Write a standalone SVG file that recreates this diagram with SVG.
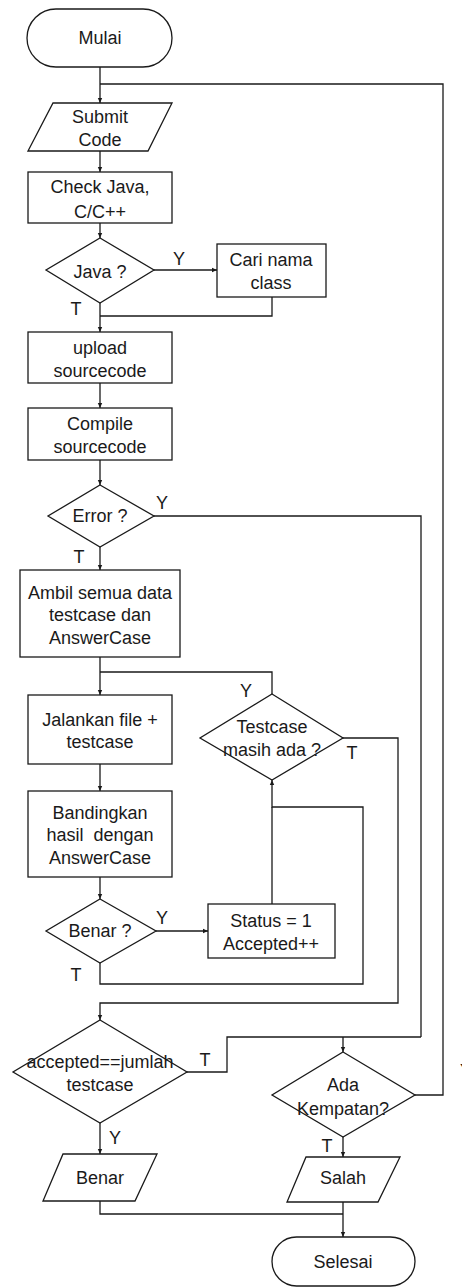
<svg xmlns="http://www.w3.org/2000/svg" width="462" height="1288" viewBox="0 0 462 1288">
  <style>
    .shape { fill: #fff; stroke: #1a1a1a; stroke-width: 1.3; }
    .wire { fill: none; stroke: #1a1a1a; stroke-width: 1.3; }
    .lbl { font-family: "Liberation Sans", Arial, sans-serif; font-size: 18px; fill: #1a1a1a; text-anchor: middle; }
  </style>
  <defs>
    <marker id="arr" markerUnits="userSpaceOnUse" markerWidth="6" markerHeight="6" refX="5" refY="3" orient="auto">
      <path d="M0,0.8 L5,3 L0,5.2 z" fill="#1a1a1a"/>
    </marker>
  </defs>
  <rect width="462" height="1288" fill="#fff"/>

  <!-- connectors -->
  <g id="connectors" class="wire">
    <path d="M100,67 V103" marker-end="url(#arr)"/>
    <path d="M415,1095 H443 V84 H100"/>
    <path d="M100,151 V172" marker-end="url(#arr)"/>
    <path d="M100,223 V238" marker-end="url(#arr)"/>
    <path d="M154,270 H217" marker-end="url(#arr)"/>
    <path d="M272,297 V316 H100"/>
    <path d="M100,303 V332" marker-end="url(#arr)"/>
    <path d="M100,383 V408" marker-end="url(#arr)"/>
    <path d="M100,460 V485" marker-end="url(#arr)"/>
    <path d="M100,547 V570" marker-end="url(#arr)"/>
    <path d="M154,516 H421 V1037"/>
    <path d="M100,657 V695" marker-end="url(#arr)"/>
    <path d="M272,694 V672 H100"/>
    <path d="M100,764 V791" marker-end="url(#arr)"/>
    <path d="M100,877 V899" marker-end="url(#arr)"/>
    <path d="M156,931 H208" marker-end="url(#arr)"/>
    <path d="M272,904 V807"/>
    <path d="M100,963 V984 H363 V807 H272 V780" marker-end="url(#arr)"/>
    <path d="M343,738 H398 V1003 H100 V1020" marker-end="url(#arr)"/>
    <path d="M187,1072 H227 V1037 H421"/>
    <path d="M343,1037 V1052" marker-end="url(#arr)"/>
    <path d="M100,1123 V1154" marker-end="url(#arr)"/>
    <path d="M343,1137 V1157" marker-end="url(#arr)"/>
    <path d="M100,1201 V1214 H343"/>
    <path d="M343,1202 V1237" marker-end="url(#arr)"/>
  </g>

  <!-- branch labels -->
  <g id="branch-labels" class="lbl">
    <text x="179" y="265">Y</text>
    <text x="76" y="315">T</text>
    <text x="162" y="509">Y</text>
    <text x="79" y="563">T</text>
    <text x="246" y="697">Y</text>
    <text x="352" y="759">T</text>
    <text x="162" y="924">Y</text>
    <text x="76" y="981">T</text>
    <text x="205" y="1066">T</text>
    <text x="115" y="1144">Y</text>
    <text x="327" y="1152">T</text>
    <text x="460" y="1077" style="text-anchor:start">Y</text>
  </g>

  <g id="mulai">
    <rect class="shape" x="27" y="9" width="145" height="58" rx="29"/>
    <text class="lbl" x="100" y="44">Mulai</text>
  </g>

  <g id="submit-code">
    <polygon class="shape" points="53,103 172,103 148,151 28,151"/>
    <text class="lbl" x="100" y="123">Submit</text>
    <text class="lbl" x="100" y="146">Code</text>
  </g>

  <g id="check-java">
    <rect class="shape" x="28" y="172" width="144" height="51"/>
    <text class="lbl" x="100" y="193">Check Java,</text>
    <text class="lbl" x="100" y="218">C/C++</text>
  </g>

  <g id="java-decision">
    <polygon class="shape" points="100,238 154,270 100,303 46,270"/>
    <text class="lbl" x="100" y="278">Java ?</text>
  </g>

  <g id="cari-class">
    <rect class="shape" x="217" y="244" width="109" height="53"/>
    <text class="lbl" x="271" y="266">Cari nama</text>
    <text class="lbl" x="271" y="289">class</text>
  </g>

  <g id="upload">
    <rect class="shape" x="28" y="332" width="144" height="51"/>
    <text class="lbl" x="100" y="354">upload</text>
    <text class="lbl" x="100" y="377">sourcecode</text>
  </g>

  <g id="compile">
    <rect class="shape" x="28" y="408" width="144" height="52"/>
    <text class="lbl" x="100" y="430">Compile</text>
    <text class="lbl" x="100" y="453">sourcecode</text>
  </g>

  <g id="error-decision">
    <polygon class="shape" points="100,485 154,516 100,547 48,516"/>
    <text class="lbl" x="100" y="522">Error ?</text>
  </g>

  <g id="ambil-data">
    <rect class="shape" x="20" y="570" width="160" height="87"/>
    <text class="lbl" x="100" y="599">Ambil semua data</text>
    <text class="lbl" x="100" y="621">testcase dan</text>
    <text class="lbl" x="100" y="644">AnswerCase</text>
  </g>

  <g id="jalankan">
    <rect class="shape" x="28" y="695" width="144" height="69"/>
    <text class="lbl" x="100" y="726">Jalankan file +</text>
    <text class="lbl" x="100" y="748">testcase</text>
  </g>

  <g id="testcase-decision">
    <polygon class="shape" points="272,694 343,738 272,780 200,738"/>
    <text class="lbl" x="272" y="733">Testcase</text>
    <text class="lbl" x="272" y="756">masih ada ?</text>
  </g>

  <g id="bandingkan">
    <rect class="shape" x="28" y="791" width="144" height="86"/>
    <text class="lbl" x="100" y="819">Bandingkan</text>
    <text class="lbl" x="100" y="841" xml:space="preserve">hasil  dengan</text>
    <text class="lbl" x="100" y="864">AnswerCase</text>
  </g>

  <g id="benar-decision">
    <polygon class="shape" points="100,899 156,931 100,963 46,931"/>
    <text class="lbl" x="100" y="937">Benar ?</text>
  </g>

  <g id="status">
    <rect class="shape" x="208" y="904" width="127" height="54"/>
    <text class="lbl" x="271" y="927">Status = 1</text>
    <text class="lbl" x="271" y="950">Accepted++</text>
  </g>

  <g id="accepted-decision">
    <polygon class="shape" points="100,1020 187,1072 100,1123 13,1072"/>
    <text class="lbl" x="100" y="1068">accepted==jumlah</text>
    <text class="lbl" x="100" y="1091">testcase</text>
  </g>

  <g id="kesempatan-decision">
    <polygon class="shape" points="343,1052 415,1095 343,1137 272,1095"/>
    <text class="lbl" x="343" y="1091">Ada</text>
    <text class="lbl" x="343" y="1115">Kempatan?</text>
  </g>

  <g id="benar-output">
    <polygon class="shape" points="63,1154 157,1154 135,1201 43,1201"/>
    <text class="lbl" x="100" y="1184">Benar</text>
  </g>

  <g id="salah-output">
    <polygon class="shape" points="306,1157 400,1157 378,1202 287,1202"/>
    <text class="lbl" x="343" y="1184">Salah</text>
  </g>

  <g id="selesai">
    <rect class="shape" x="272" y="1237" width="143" height="49" rx="24.5"/>
    <text class="lbl" x="343" y="1268">Selesai</text>
  </g>
</svg>
